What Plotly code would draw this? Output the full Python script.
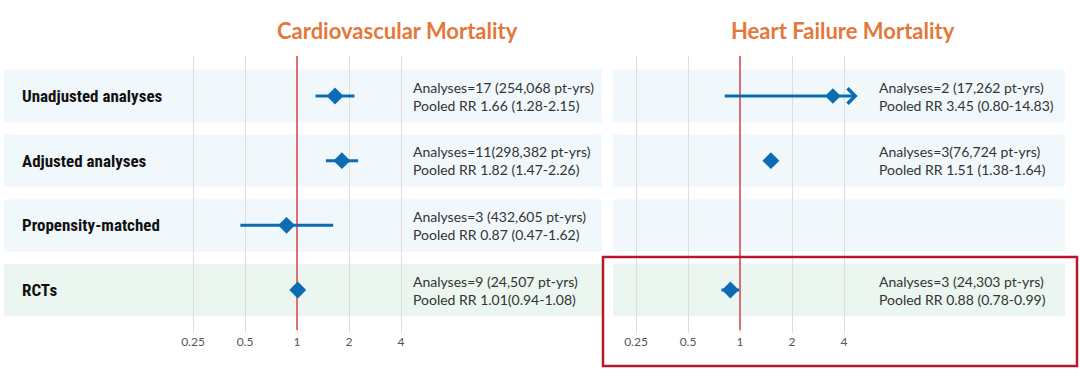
import math
import plotly.graph_objects as go

# ---------------- data ----------------
rows = ["Unadjusted analyses", "Adjusted analyses", "Propensity-matched", "RCTs"]
row_pos = [4, 3, 2, 1]

cv_est = [1.66, 1.82, 0.87, 1.01]
cv_lo = [1.28, 1.47, 0.47, 0.94]
cv_hi = [2.15, 2.26, 1.62, 1.08]
cv_txt1 = ["Analyses=17 (254,068 pt-yrs)", "Analyses=11(298,382 pt-yrs)",
           "Analyses=3 (432,605 pt-yrs)", "Analyses=9 (24,507 pt-yrs)"]
cv_txt2 = ["Pooled RR 1.66 (1.28-2.15)", "Pooled RR 1.82 (1.47-2.26)",
           "Pooled RR 0.87 (0.47-1.62)", "Pooled RR 1.01(0.94-1.08)"]

hf_est = [3.45, 1.51, None, 0.88]
hf_lo = [0.80, 1.38, None, 0.78]
hf_hi = [14.83, 1.64, None, 0.99]
hf_txt1 = ["Analyses=2 (17,262 pt-yrs)", "Analyses=3(76,724 pt-yrs)", "", "Analyses=3 (24,303 pt-yrs)"]
hf_txt2 = ["Pooled RR 3.45 (0.80-14.83)", "Pooled RR 1.51 (1.38-1.64)", "", "Pooled RR 0.88 (0.78-0.99)"]
hf_cap = 4.8  # displayed arrow end for truncated CI

null_value = 1
tick_vals = [0.25, 0.5, 1, 2, 4]
tick_text = ["0.25", "0.5", "1", "2", "4"]

titles = ["Cardiovascular Mortality", "Heart Failure Mortality"]

# ---------------- styling ----------------
OX, OY = 0, 0
W, H = 1080, 380
BLUE = "#0B6CB3"
ORANGE = "#E4783A"
RED = "#D9454A"
BOX = "#B5182B"
BAND_BLUE = "#F1F8FC"
BAND_GREEN = "#EAF6EF"
TXT = "#333333"
LBL_FONT = "Liberation Sans Narrow, Roboto Condensed, Arial Narrow, sans-serif"
TXT_FONT = "Lato, Noto Sans, sans-serif"


def px_x(p):
    return min(max((p - OX) / W, 0.0), 1.0)


def px_y(p):
    return min(max((H - (p - OY)) / H, 0.0), 1.0)


fig = go.Figure()

ppl2 = 52.0  # pixels per doubling


def log_range(left_px, right_px, one_px):
    return [((left_px - one_px) / ppl2) * math.log10(2), ((right_px - one_px) / ppl2) * math.log10(2)]


left1 = max(4, OX)
x1_dom = [px_x(left1), px_x(602)]
x2_dom = [px_x(613), px_x(1065)]
x1_rng = log_range(left1, 602, 297)
x2_rng = log_range(613, 1065, 740)

top_px, bot_px = 56, 333
y_dom = [px_y(bot_px), px_y(top_px)]
upp = 64.67
y_rng = [1 - (bot_px - 290) / upp, 4 + (96 - top_px) / upp]


def ypx_to_val(p):
    return 4 + (96 - p) / upp


axis_common = dict(type="log", tickvals=tick_vals, ticktext=tick_text, showgrid=True,
                   gridcolor="#DEDEDE", gridwidth=1, zeroline=False, showline=False,
                   ticks="", tickfont=dict(family=TXT_FONT, size=12, color="#555555"),
                   fixedrange=True)
fig.update_layout(
    xaxis=dict(domain=x1_dom, range=x1_rng, anchor="y", **axis_common),
    xaxis2=dict(domain=x2_dom, range=x2_rng, anchor="y2", **axis_common),
    yaxis=dict(domain=y_dom, range=y_rng, visible=False, fixedrange=True),
    yaxis2=dict(domain=y_dom, range=y_rng, visible=False, fixedrange=True),
)

shapes = []
annotations = []
half = 0.405
for xr, yr in [("x", "y"), ("x2", "y2")]:
    for r, name in zip(row_pos, rows):
        shapes.append(dict(type="rect", xref=f"{xr} domain", yref=yr, x0=0, x1=1,
                           y0=r - half, y1=r + half, fillcolor=BAND_GREEN if name == "RCTs" else BAND_BLUE,
                           line=dict(width=0), layer="below"))
    # null-effect reference line (drawn as trace under the markers)
    fig.add_trace(go.Scatter(x=[null_value, null_value], y=[ypx_to_val(330), ypx_to_val(top_px)],
                             mode="lines", xaxis=xr, yaxis=yr, line=dict(color=RED, width=1.5),
                             showlegend=False, hoverinfo="skip"))

# red box around HF RCT row
shapes.append(dict(type="rect", xref="paper", yref="paper", x0=px_x(603), x1=px_x(1077),
                   y0=px_y(366), y1=px_y(257), line=dict(color=BOX, width=2.5), fillcolor="rgba(0,0,0,0)"))

# CV traces
fig.add_trace(go.Scatter(
    x=cv_est, y=row_pos, mode="markers", xaxis="x", yaxis="y",
    marker=dict(symbol="diamond", size=13, color=BLUE),
    error_x=dict(type="data", symmetric=False,
                 array=[h - e for h, e in zip(cv_hi, cv_est)],
                 arrayminus=[e - l for e, l in zip(cv_est, cv_lo)],
                 color=BLUE, thickness=3, width=0),
    showlegend=False, hoverinfo="skip"))

# HF traces (rows with full CI)
hf_idx = [i for i in range(4) if hf_est[i] is not None and hf_hi[i] <= hf_cap]
fig.add_trace(go.Scatter(
    x=[hf_est[i] for i in hf_idx], y=[row_pos[i] for i in hf_idx], mode="markers", xaxis="x2", yaxis="y2",
    marker=dict(symbol="diamond", size=13, color=BLUE),
    error_x=dict(type="data", symmetric=False,
                 array=[hf_hi[i] - hf_est[i] for i in hf_idx],
                 arrayminus=[hf_est[i] - hf_lo[i] for i in hf_idx],
                 color=BLUE, thickness=3, width=0),
    showlegend=False, hoverinfo="skip"))

# truncated CI with arrow
for i in range(4):
    if hf_est[i] is not None and hf_hi[i] > hf_cap:
        annotations.append(dict(xref="x2", yref="y2", axref="x2", ayref="y2",
                                x=math.log10(hf_cap), y=row_pos[i],
                                ax=math.log10(hf_lo[i]), ay=row_pos[i],
                                text="", showarrow=True, arrowhead=4, arrowsize=1.0,
                                arrowwidth=3, arrowcolor=BLUE, standoff=0, startstandoff=0))
        fig.add_trace(go.Scatter(x=[hf_est[i]], y=[row_pos[i]], mode="markers", xaxis="x2", yaxis="y2",
                                 marker=dict(symbol="diamond", size=12, color=BLUE),
                                 showlegend=False, hoverinfo="skip"))

# row labels
for r, name in zip(row_pos, rows):
    annotations.append(dict(xref="paper", yref="y", x=px_x(20), y=r, xanchor="left", yanchor="middle",
                            text=f"<b>{name}</b>", showarrow=False,
                            font=dict(family=LBL_FONT, size=17, color="#111111")))

# stats text
for xpx, t1, t2 in [(411, cv_txt1, cv_txt2), (877, hf_txt1, hf_txt2)]:
    for r, a, b in zip(row_pos, t1, t2):
        if not a:
            continue
        annotations.append(dict(xref="paper", yref="y", x=px_x(xpx), y=r, xanchor="left", yanchor="middle",
                                text=f"{a}<br>{b}", showarrow=False, align="left",
                                font=dict(family=TXT_FONT, size=14, color=TXT)))

# titles
for xc, t in [(397, titles[0]), (843, titles[1])]:
    annotations.append(dict(xref="paper", yref="paper", x=px_x(xc), y=px_y(30), xanchor="center",
                            yanchor="middle", text=f"<b>{t}</b>", showarrow=False,
                            font=dict(family=TXT_FONT, size=22, color=ORANGE)))

fig.update_layout(width=W, height=H, margin=dict(l=0, r=0, t=0, b=0),
                  paper_bgcolor="white", plot_bgcolor="white",
                  shapes=shapes, annotations=annotations, showlegend=False)

fig.write_html("out.html", config={"displayModeBar": False},
               post_script="document.body.style.margin='0';document.documentElement.style.overflow='hidden';")
